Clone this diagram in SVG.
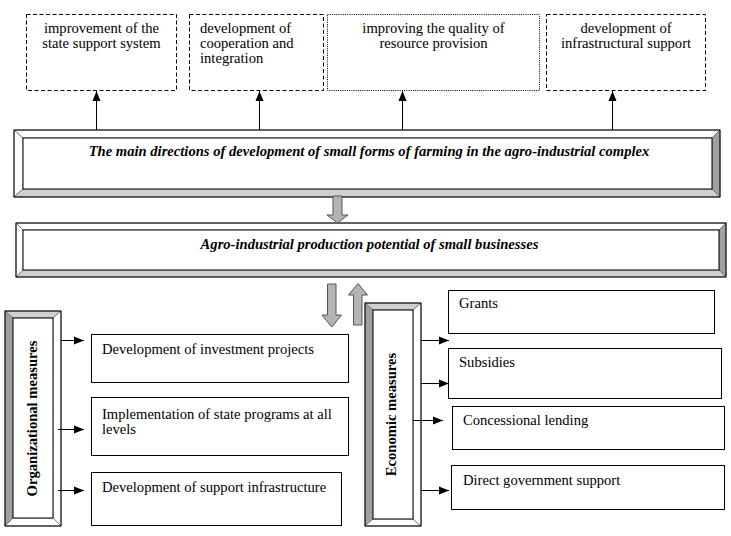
<svg xmlns="http://www.w3.org/2000/svg" width="731" height="536" viewBox="0 0 731 536">
<defs>
<marker id="ah" markerUnits="userSpaceOnUse" markerWidth="10" markerHeight="10" viewBox="0 0 10 10" refX="10" refY="5" orient="auto">
<path d="M0,1 L10,5 L0,9 Z" fill="#000"/>
</marker>
<style>
.t{font-family:"Liberation Serif","Times New Roman","DejaVu Serif",serif;font-size:14.6px;fill:#000}
.bi{font-weight:bold;font-style:italic}
.b{font-weight:bold}
.dash{fill:#fff;stroke:#000;stroke-width:1;stroke-dasharray:4,2.5}
.dot{fill:#fff;stroke:#000;stroke-width:1;stroke-dasharray:1,1.2}
.box{fill:#fff;stroke:#000;stroke-width:1}
.w{fill:#fff;stroke:#666;stroke-width:0.75}
.lg{fill:#d0d0d0;stroke:#666;stroke-width:0.75}
.dg{fill:#a0a0a0;stroke:#666;stroke-width:0.75}
.in{fill:#fff;stroke:#000;stroke-width:1}
.out{fill:none;stroke:#000;stroke-width:1}
.con{stroke:#000;stroke-width:1;fill:none;marker-end:url(#ah)}
.blk{fill:#b4b4b4;stroke:#555;stroke-width:1}
</style>
</defs>

<g id="top1">
<rect class="dash" x="26.5" y="14.5" width="150" height="76"/>
<text class="t" x="101.5" y="33" text-anchor="middle">improvement of the</text>
<text class="t" x="101.5" y="48" text-anchor="middle">state support system</text>
</g>
<g id="top2">
<rect class="dash" x="189.5" y="14.5" width="134" height="76"/>
<text class="t" x="200" y="33">development of</text>
<text class="t" x="200" y="48">cooperation and</text>
<text class="t" x="200" y="63">integration</text>
</g>
<g id="top3">
<rect class="dot" x="327.5" y="14.5" width="212" height="76"/>
<text class="t" x="433.5" y="33" text-anchor="middle">improving the quality of</text>
<text class="t" x="433.5" y="48" text-anchor="middle">resource provision</text>
</g>
<g id="top4">
<rect class="dash" x="546.5" y="14.5" width="159" height="76"/>
<text class="t" x="626" y="33" text-anchor="middle">development of</text>
<text class="t" x="626" y="48" text-anchor="middle">infrastructural support</text>
</g>

<g id="main">
<polygon class="w" points="14,130 720,130 712,138 23,138"/>
<polygon class="w" points="14,130 14,197 23,189 23,138"/>
<polygon class="lg" points="14,197 720,197 712,189 23,189"/>
<polygon class="dg" points="720,130 720,197 712,189 712,138"/>
<rect class="in" x="23" y="138" width="689" height="51"/>
<rect class="out" x="14" y="130" width="706" height="67"/>
<text class="t bi" x="369" y="156" text-anchor="middle">The main directions of development of small forms of farming in the agro-industrial complex</text>
</g>

<g id="potential">
<polygon class="w" points="16,223 726,223 719,230 23,230"/>
<polygon class="w" points="16,223 16,277 23,270 23,230"/>
<polygon class="lg" points="16,277 726,277 719,270 23,270"/>
<polygon class="dg" points="726,223 726,277 719,270 719,230"/>
<rect class="in" x="23" y="230" width="696" height="40"/>
<rect class="out" x="16" y="223" width="710" height="54"/>
<text class="t bi" x="369.5" y="249" text-anchor="middle">Agro-industrial production potential of small businesses</text>
</g>

<g id="org">
<polygon class="lg" points="5,311 61,311 53,318 13,318"/>
<polygon class="dg" points="5,311 5,526 13,518 13,318"/>
<polygon class="w" points="5,526 61,526 53,518 13,518"/>
<polygon class="w" points="61,311 61,526 53,518 53,318"/>
<rect class="in" x="13" y="318" width="40" height="200"/>
<rect class="out" x="5" y="311" width="56" height="215"/>
<text class="t b" transform="translate(36.5,418.5) rotate(-90)" text-anchor="middle">Organizational measures</text>
</g>

<g id="econ">
<polygon class="lg" points="365,303 421,303 413,310 373,310"/>
<polygon class="dg" points="365,303 365,526 373,519 373,310"/>
<polygon class="w" points="365,526 421,526 413,519 373,519"/>
<polygon class="w" points="421,303 421,526 413,519 413,310"/>
<rect class="in" x="373" y="310" width="40" height="209"/>
<rect class="out" x="365" y="303" width="56" height="223"/>
<text class="t b" transform="translate(396,414.5) rotate(-90)" text-anchor="middle">Economic measures</text>
</g>

<g id="o1">
<rect class="box" x="91.5" y="334.5" width="257" height="48"/>
<text class="t" x="102" y="354">Development of investment projects</text>
</g>
<g id="o2">
<rect class="box" x="91.5" y="397.5" width="257" height="58"/>
<text class="t" x="102" y="419">Implementation of state programs at all</text>
<text class="t" x="102" y="434">levels</text>
</g>
<g id="o3">
<rect class="box" x="91.5" y="472.5" width="250" height="53"/>
<text class="t" x="102" y="492">Development of support infrastructure</text>
</g>

<g id="e1">
<rect class="box" x="448.5" y="290.5" width="266" height="43"/>
<text class="t" x="459" y="308">Grants</text>
</g>
<g id="e2">
<rect class="box" x="448.5" y="348.5" width="273" height="50"/>
<text class="t" x="459" y="367">Subsidies</text>
</g>
<g id="e3">
<rect class="box" x="452.5" y="406.5" width="272" height="43"/>
<text class="t" x="463" y="425">Concessional lending</text>
</g>
<g id="e4">
<rect class="box" x="451.5" y="465.5" width="273" height="44"/>
<text class="t" x="463" y="485">Direct government support</text>
</g>

<g id="connectors">
<line class="con" x1="96.5" y1="130" x2="96.5" y2="91"/>
<line class="con" x1="259.5" y1="130" x2="259.5" y2="91"/>
<line class="con" x1="402.5" y1="130" x2="402.5" y2="91"/>
<line class="con" x1="612.5" y1="130" x2="612.5" y2="91"/>

<polygon class="blk" points="333,196 342,196 342,215 348,215 337.5,223 327,215 333,215"/>
<polygon class="blk" points="327.5,284 336,284 336,315 341.5,315 331.75,327 322,315 327.5,315"/>
<polygon class="blk" points="353.5,325 362,325 362,295 367.5,295 358,283.5 348.5,295 353.5,295"/>

<line class="con" x1="61" y1="340.5" x2="84" y2="340.5"/>
<line class="con" x1="58" y1="429.5" x2="84" y2="429.5"/>
<line class="con" x1="58" y1="490.5" x2="84" y2="490.5"/>

<line class="con" x1="421" y1="340.5" x2="449" y2="340.5"/>
<line class="con" x1="421" y1="383.5" x2="449" y2="383.5"/>
<line class="con" x1="413" y1="420.5" x2="443" y2="420.5"/>
<line class="con" x1="421" y1="490.5" x2="449" y2="490.5"/>
</g>
</svg>
